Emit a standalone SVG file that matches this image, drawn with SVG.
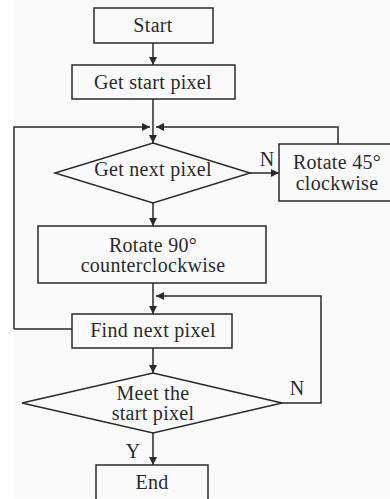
<svg xmlns="http://www.w3.org/2000/svg" width="390" height="499" viewBox="0 0 390 499">
<style>
.box{fill:none;stroke:#2a2a2a;stroke-width:1.5}
.ln{fill:none;stroke:#2a2a2a;stroke-width:1.5}
.t{font-family:"Liberation Serif","Times New Roman",serif;font-size:20px;fill:#2a2a2a;text-anchor:middle;letter-spacing:0.3px}
</style>
<defs>
<marker id="ah" viewBox="0 0 10 10" refX="10" refY="5" markerWidth="8" markerHeight="8" markerUnits="userSpaceOnUse" orient="auto">
<path d="M0,0 L10,5 L0,10 z" fill="#2a2a2a"/>
</marker>
</defs>
<rect x="0" y="0" width="390" height="499" fill="#ffffff"/>
<rect x="14" y="0" width="376" height="498" fill="#fafafa"/>
<g id="connectors">
<line class="ln" x1="153" y1="43" x2="153" y2="65" marker-end="url(#ah)"/>
<line class="ln" x1="153" y1="99" x2="153" y2="143" marker-end="url(#ah)"/>
<polyline class="ln" points="14,329 14,127 150,127" marker-end="url(#ah)"/>
<polyline class="ln" points="338,144 338,127 156,127" marker-end="url(#ah)"/>
<line class="ln" x1="250" y1="173" x2="279" y2="173" marker-end="url(#ah)"/>
<line class="ln" x1="153" y1="203" x2="153" y2="226" marker-end="url(#ah)"/>
<line class="ln" x1="153" y1="283" x2="153" y2="314" marker-end="url(#ah)"/>
<polyline class="ln" points="282,403 321,403 321,296 156,296" marker-end="url(#ah)"/>
<line class="ln" x1="14" y1="329" x2="72" y2="329"/>
<line class="ln" x1="153" y1="348" x2="153" y2="373" marker-end="url(#ah)"/>
<line class="ln" x1="153" y1="433" x2="153" y2="465" marker-end="url(#ah)"/>
<text class="t" x="267" y="166">N</text>
<text class="t" x="297" y="395">N</text>
<text class="t" x="133" y="458">Y</text>
</g>
<g id="start">
<rect class="box" x="94" y="8" width="119" height="35"/>
<text class="t" x="153" y="32">Start</text>
</g>
<g id="get-start-pixel">
<rect class="box" x="72" y="65" width="163" height="34"/>
<text class="t" x="153" y="89">Get start pixel</text>
</g>
<g id="get-next-pixel">
<polygon class="box" points="153,143 250,173 153,203 55,173"/>
<text class="t" x="153" y="176">Get next pixel</text>
</g>
<g id="rotate-45">
<rect class="box" x="279" y="144" width="115" height="57"/>
<text class="t" x="337" y="169">Rotate 45°</text>
<text class="t" x="337" y="190">clockwise</text>
</g>
<g id="rotate-90">
<rect class="box" x="38" y="226" width="228" height="57"/>
<text class="t" x="153" y="252">Rotate 90°</text>
<text class="t" x="153" y="272">counterclockwise</text>
</g>
<g id="find-next-pixel">
<rect class="box" x="72" y="314" width="160" height="34"/>
<text class="t" x="153" y="337">Find next pixel</text>
</g>
<g id="meet-start">
<polygon class="box" points="153,373 282,403 153,433 22,403"/>
<text class="t" x="153" y="400">Meet the</text>
<text class="t" x="153" y="420">start pixel</text>
</g>
<g id="end">
<rect class="box" x="96" y="465" width="112" height="40"/>
<text class="t" x="152" y="489">End</text>
</g>
</svg>
